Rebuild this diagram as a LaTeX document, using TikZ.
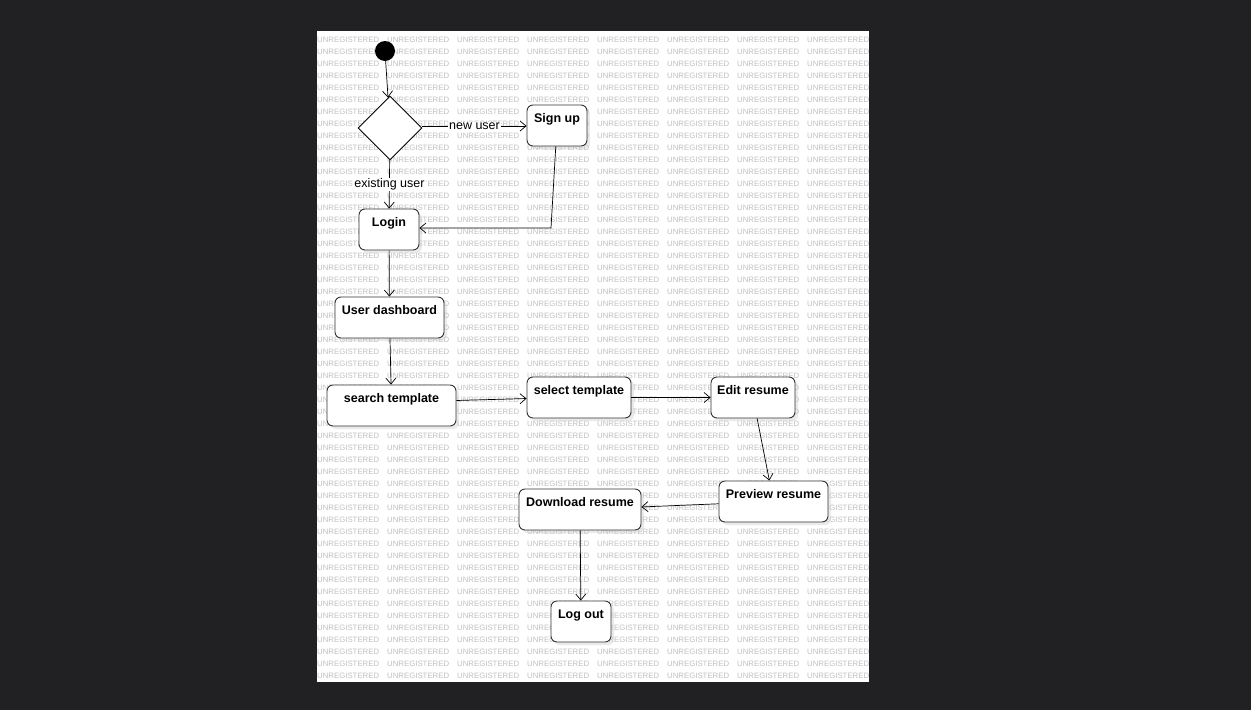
\documentclass[tikz,border=0pt]{standalone}
\usepackage{fontspec}
\setmainfont{Liberation Sans}
\usepackage{xcolor}
\usetikzlibrary{shapes.geometric,arrows.meta,shadows}

\definecolor{backdrop}{RGB}{33,32,34}
\definecolor{wmgray}{RGB}{192,192,192}

\tikzset{
    act/.style={rectangle, draw=black!80, fill=white, rounded corners=6pt, line width=0.9pt,
        font=\fontsize{12.5}{14}\selectfont\bfseries, inner xsep=4pt, inner ysep=4pt,
        text height=13pt, text depth=20pt,
        drop shadow={shadow xshift=3pt, shadow yshift=-3pt, fill=black!20, opacity=0.4}},
    guard/.style={fill=white, inner sep=1pt, font=\fontsize{12.5}{14}\selectfont},
    wm/.style={text=wmgray, inner sep=0pt, anchor=west, font=\fontsize{7.8}{9}\selectfont},
    flow/.style={-{Straight Barb[length=6pt,width=10pt]}, line width=0.7pt}
}

\begin{document}
\begin{tikzpicture}[x=1pt, y=-1pt]
    \fill[backdrop] (0,0) rectangle (1251,710);
    \fill[white] (317,31) rectangle (869,682);

    % watermark
    \begin{scope}
        \clip (317,31) rectangle (869,682);
        \foreach \r in {0,...,53}
            \foreach \c in {0,...,7}
                \node[wm] (wm-\r-\c) at (317+70*\c, 40+12*\r) {UNREGISTERED};
    \end{scope}

    \node[circle, fill=black, minimum size=20pt, inner sep=0pt] (start) at (385,51) {};
    \node[diamond, draw, fill=white, line width=0.9pt, minimum width=64pt, minimum height=64pt, inner sep=0pt] (check) at (390,128) {};

    \node[act, minimum width=60pt] (signup) at (557,125.5) {Sign up};
    \node[act, minimum width=60pt] (login) at (389,229.5) {Login};
    \node[act, minimum width=109pt] (dash) at (389.5,317.5) {User dashboard};
    \node[act, minimum width=129pt] (search) at (391.5,405.5) {search template};
    \node[act, minimum width=104pt] (select) at (579,397.5) {select template};
    \node[act, minimum width=84pt] (edit) at (753,397.5) {Edit resume};
    \node[act, minimum width=109pt] (preview) at (773.5,501.5) {Preview resume};
    \node[act, minimum width=122pt] (download) at (580,509.5) {Download resume};
    \node[act, minimum width=60pt] (logout) at (581,621.5) {Log out};
    \coordinate (turn) at (551,228);

    \draw[flow] (start) -- (check);
    \draw[flow] ([yshift=2pt]check.east) -- node[guard] {new user} ([yshift=2pt]check.east -| signup.west);
    \draw[flow] (check) -- node[guard] {existing user} (login);
    \draw[flow] (signup) -- (turn) -- (turn -| login.east);
    \draw[flow] (login) -- (dash);
    \draw[flow] (dash) -- (search);
    \draw[flow] ([yshift=5pt]search.east) -- ([yshift=-1pt]select.west);
    \draw[flow] (select) -- (edit);
    \draw[flow] (edit) -- (preview);
    \draw[flow] (preview) -- (download);
    \draw[flow] (download) -- (logout);
\end{tikzpicture}
\end{document}
